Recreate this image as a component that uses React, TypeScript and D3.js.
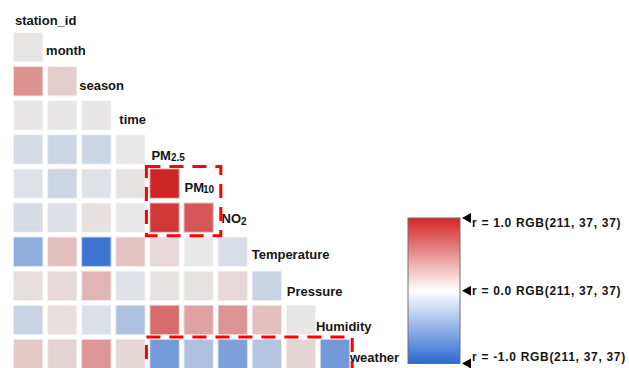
import React from "react";
import * as d3 from "d3";

const variables = ["station_id", "month", "season", "time", "PM2.5", "PM10", "NO2", "Temperature", "Pressure", "Humidity", "weather"];
const corrMonth = [0.02];
const corrSeason = [0.42, 0.13];
const corrTime = [0.01, 0.01, 0.01];
const corrPM25 = [-0.1, -0.15, -0.15, 0.0];
const corrPM10 = [-0.05, -0.15, -0.05, 0.03, 0.96];
const corrNO2 = [-0.1, -0.06, 0.04, 0.0, 0.86, 0.71];
const corrTemperature = [-0.47, 0.2, -0.92, 0.18, 0.08, 0.0, -0.08];
const corrPressure = [0.05, 0.08, 0.25, -0.05, 0.03, 0.03, 0.08, -0.17];
const corrHumidity = [-0.17, 0.05, -0.07, -0.31, 0.61, 0.35, 0.41, 0.2, 0.01];
const corrWeather = [0.15, 0.1, 0.4, 0.09, -0.62, -0.31, -0.58, -0.28, 0.1, -0.63];
const corrRows = [[], corrMonth, corrSeason, corrTime, corrPM25, corrPM10, corrNO2, corrTemperature, corrPressure, corrHumidity, corrWeather];

const legendTicks = [1.0, 0.0, -1.0];

// highlighted groups: [row range], [col range]
const highlights = [
  { rows: [5, 6], cols: [4, 5], pad: [4, 3, 8, 4] },
  { rows: [10, 10], cols: [4, 9], pad: [4, 3, 3, 4] },
];

// label nudges [dx, dy]
const labelNudge: [number, number][] = [
  [1, 7], [-2, 3], [-3, 4], [3, 4], [1, 6], [0, 4], [3, 1], [-1, 3], [0, 6], [-5, 7], [-5, 3],
];

const W = 629;
const H = 368;

export default function App() {
  const idx = variables.map((_, i) => i);
  const x = d3.scaleBand<number>().domain(idx).range([14, 383.3]).paddingInner(0.17).paddingOuter(0);
  const y = d3.scaleBand<number>().domain(idx).range([-1.1, 368.2]).paddingInner(0.17).paddingOuter(0);
  const color = d3
    .scaleLinear<string>()
    .domain([-1, 0, 1])
    .range(["#2f6ad0", "#e8e8e8", "#cd1c1c"])
    .interpolate(d3.interpolateRgb)
    .clamp(true);

  const cells: { r: number; c: number; v: number }[] = [];
  corrRows.forEach((row, r) => row.forEach((v, c) => cells.push({ r, c, v })));

  const bw = x.bandwidth();
  const bh = y.bandwidth();

  const barX = 408;
  const barW = 52;
  const ly = d3.scaleLinear().domain([-1, 1]).range([363.5, 218]);
  const textShift = (t: number) => (t === 1 ? 4 : t === -1 ? -7 : 0);

  const renderLabel = (name: string, i: number) => {
    const lx = (x(i) as number) + labelNudge[i][0];
    const lyy = (y(i) as number) + bh / 2 + labelNudge[i][1] + 4.5;
    const common = { x: lx, y: lyy, fontFamily: "'Liberation Sans', Arial, sans-serif", fontWeight: 700, fontSize: 13, fill: "#151515" } as any;
    if (name === "PM2.5")
      return (
        <text key={name} {...common}>
          PM<tspan fontSize={10} dy={1}>2.5</tspan>
        </text>
      );
    if (name === "PM10")
      return (
        <text key={name} {...common}>
          PM<tspan fontSize={10} dx={-1} dy={1}>10</tspan>
        </text>
      );
    if (name === "NO2")
      return (
        <text key={name} {...common}>
          NO<tspan fontSize={10} dy={1.5}>2</tspan>
        </text>
      );
    return (
      <text key={name} {...common}>
        {name}
      </text>
    );
  };

  return (
    <svg width={W} height={H} style={{ position: "absolute", left: 0, top: 0, background: "#fff" }}>
      <defs>
        <linearGradient id="lg" x1="0" y1="0" x2="0" y2="1">
          <stop offset="0%" stopColor="rgb(211,37,37)" />
          <stop offset="50%" stopColor="rgb(255,255,255)" />
          <stop offset="100%" stopColor="rgb(45,105,208)" />
        </linearGradient>
      </defs>
      <rect width={W} height={H} fill="#fff" />
      {cells.map((d) => (
        <rect
          key={`${d.r}-${d.c}`}
          x={x(d.c)}
          y={y(d.r)}
          width={bw}
          height={bh}
          fill={color(d.v)}
          stroke={color(d.v)}
          strokeOpacity={0.35}
          strokeWidth={2}
        />
      ))}
      {variables.map((v, i) => renderLabel(v, i))}
      {highlights.map((h, k) => {
        const x0 = (x(h.cols[0]) as number) - h.pad[0];
        const x1 = (x(h.cols[1]) as number) + bw + h.pad[2];
        const y0 = (y(h.rows[0]) as number) - h.pad[1];
        const y1 = (y(h.rows[1]) as number) + bh + h.pad[3];
        return (
          <rect
            key={k}
            x={x0}
            y={y0}
            width={x1 - x0}
            height={y1 - y0}
            fill="none"
            stroke="#ff0000"
            strokeWidth={3}
            strokeDasharray="14 9"
          />
        );
      })}
      <rect x={barX} y={ly(1)} width={barW} height={ly(-1) - ly(1)} fill="url(#lg)" stroke="#6e6e6e" strokeWidth={1} />
      {legendTicks.map((t) => {
        const ty = ly(t);
        return (
          <g key={t}>
            <path d={`M${barX + barW + 2},${ty} L${barX + barW + 11},${ty - 5} L${barX + barW + 11},${ty + 5} Z`} fill="#000" />
            <text
              x={barX + barW + 12}
              y={ty + textShift(t) + 4.5}
              fontFamily="'Liberation Sans', Arial, sans-serif"
              fontWeight={700}
              fontSize={12}
              letterSpacing={0.7}
              fill="#151515"
            >
              {`r = ${t.toFixed(1)} RGB(211, 37, 37)`}
            </text>
          </g>
        );
      })}
    </svg>
  );
}
